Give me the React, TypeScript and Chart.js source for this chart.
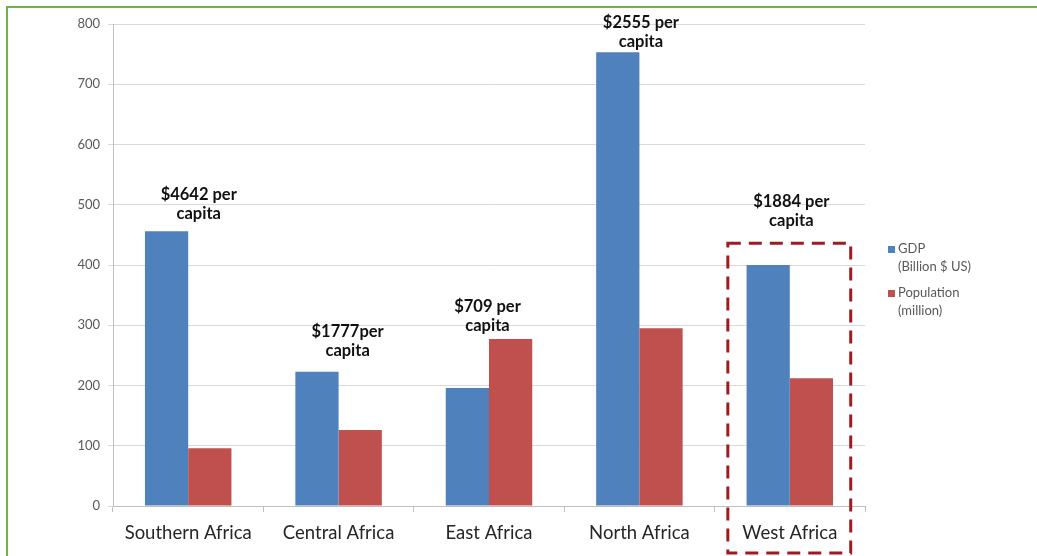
import React, { useEffect, useRef } from "react";
import { Chart, registerables } from "chart.js";

Chart.register(...registerables);

const categories = ["Southern Africa", "Central Africa", "East Africa", "North Africa", "West Africa"];
const gdpValues = [456, 223, 196, 753, 400];
const populationValues = [96, 126, 277, 295, 212];
const perCapitaFirstLine = ["$4642 per", "$1777per", "$709 per", "$2555 per", "$1884 per"];
const perCapitaSecondLine = "capita";
const perCapitaLabelY = [486, 257, 300, 770, 473];
const perCapitaLabelShift = [0.07, 0.06, -0.01, 0.01, 0.01];
const yTickValues = [0, 100, 200, 300, 400, 500, 600, 700, 800];
const legendGdp = ["GDP", "(Billion $ US)"];
const legendPopulation = ["Population", "(million)"];
const highlightIndex = 4;
const highlightTop = 436;
const highlightBottom = -78;

const BLUE = "#4F81BD";
const RED = "#C0504D";
const BODY_FONT = "Lato, 'Open Sans', sans-serif";

const overlayPlugin = {
  id: "overlay",
  afterDatasetsDraw(chart: any) {
    const { ctx, scales, chartArea } = chart;
    const x = scales.x;
    const y = scales.y;
    ctx.save();
    // per capita annotations
    ctx.font = "bold 16.5px " + BODY_FONT;
    ctx.fillStyle = "#111111";
    ctx.textAlign = "center";
    ctx.textBaseline = "middle";
    categories.forEach((_, i) => {
      const cx = x.getPixelForValue(i + perCapitaLabelShift[i]);
      const cy = y.getPixelForValue(perCapitaLabelY[i]);
      ctx.fillText(perCapitaFirstLine[i], cx, cy - 19);
      ctx.fillText(perCapitaSecondLine, cx, cy);
    });
    // highlight dashed box
    const left = x.getPixelForValue(highlightIndex - 0.412);
    const right = x.getPixelForValue(highlightIndex + 0.405);
    const top = y.getPixelForValue(highlightTop);
    const bottom = y.getPixelForValue(highlightBottom);
    ctx.strokeStyle = "#A01B1F";
    ctx.lineWidth = 3;
    ctx.setLineDash([13, 8]);
    ctx.strokeRect(left, top, right - left, bottom - top);
    ctx.setLineDash([]);
    // legend
    const lx = chartArea.right + 23;
    const items = [
      { color: BLUE, lines: legendGdp, y: 249 },
      { color: RED, lines: legendPopulation, y: 293 },
    ];
    ctx.font = "13px " + BODY_FONT;
    ctx.textAlign = "left";
    items.forEach((it) => {
      ctx.fillStyle = it.color;
      ctx.fillRect(lx, it.y - 3, 7, 7);
      ctx.fillStyle = "#595959";
      ctx.fillText(it.lines[0], lx + 10, it.y);
      ctx.fillText(it.lines[1], lx + 10, it.y + 18);
    });
    ctx.restore();
  },
};

export default function App() {
  const canvasRef = useRef<HTMLCanvasElement | null>(null);

  useEffect(() => {
    document.body.style.margin = "0";
    const canvas = canvasRef.current;
    if (!canvas) return;
    const chart = new Chart(canvas, {
      type: "bar",
      data: {
        labels: categories,
        datasets: [
          {
            label: "GDP (Billion $ US)",
            data: gdpValues,
            backgroundColor: BLUE,
            categoryPercentage: 0.575,
            barPercentage: 1,
          },
          {
            label: "Population (million)",
            data: populationValues,
            backgroundColor: RED,
            categoryPercentage: 0.575,
            barPercentage: 1,
          },
        ],
      },
      options: {
        animation: false,
        responsive: false,
        maintainAspectRatio: false,
        layout: { padding: { left: 0, right: 172, top: 24, bottom: 0 } },
        plugins: {
          legend: { display: false },
          tooltip: { enabled: false },
        },
        scales: {
          x: {
            afterFit: (scale: any) => {
              scale.height = 50;
            },
            grid: {
              display: true,
              drawOnChartArea: false,
              drawTicks: true,
              tickLength: 6,
              color: "#BFBFBF",
              offset: true,
            },
            border: { display: true, color: "#BFBFBF" },
            ticks: {
              color: "#262626",
              font: { family: BODY_FONT, size: 18.5 },
              padding: 10,
            },
          },
          y: {
            min: 0,
            max: 800,
            afterFit: (scale: any) => {
              scale.width = 113;
            },
            afterBuildTicks: (scale: any) => {
              scale.ticks = yTickValues.map((v) => ({ value: v }));
            },
            grid: {
              color: "#D9D9D9",
              drawTicks: true,
              tickLength: 5,
            },
            border: { display: true, color: "#BFBFBF" },
            ticks: {
              color: "#595959",
              font: { family: BODY_FONT, size: 13 },
              padding: 8,
            },
          },
        },
      },
      plugins: [overlayPlugin],
    });
    return () => chart.destroy();
  }, []);

  return (
    <div style={{ position: "relative", width: 1037, height: 556, overflow: "hidden", background: "#ffffff" }}>
      <canvas ref={canvasRef} width={1037} height={556} style={{ display: "block" }} />
      <div
        style={{
          position: "absolute",
          left: 6,
          top: 6,
          width: 1100,
          height: 700,
          borderLeft: "2px solid #6DB33F",
          borderTop: "2px solid #6DB33F",
          pointerEvents: "none",
        }}
      />
    </div>
  );
}
